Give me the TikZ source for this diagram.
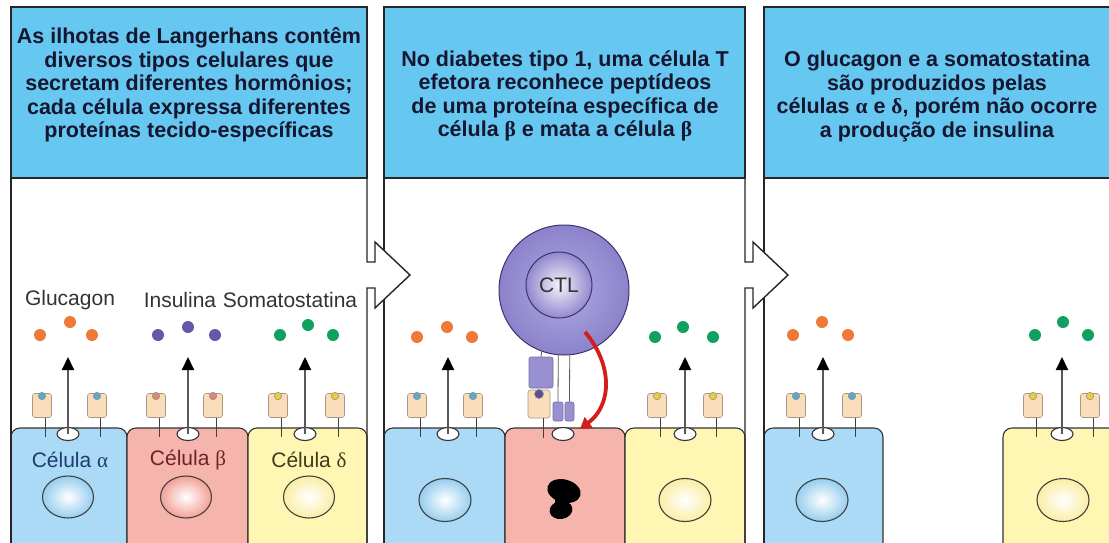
\documentclass[tikz,border=0pt]{standalone}
\usepackage{fontspec}
\setmainfont{Liberation Sans}
\newfontfamily\greekfont{Liberation Serif}
\usetikzlibrary{arrows.meta,shapes.geometric}

\definecolor{hdrblue}{RGB}{102,200,240}
\definecolor{ink}{RGB}{22,22,48}
\definecolor{cellA}{RGB}{170,218,245}
\definecolor{cellB}{RGB}{245,180,172}
\definecolor{cellD}{RGB}{255,246,180}
\definecolor{nucA}{RGB}{150,205,238}
\definecolor{nucB}{RGB}{242,160,150}
\definecolor{nucD}{RGB}{250,238,165}
\definecolor{labA}{RGB}{30,60,110}
\definecolor{labB}{RGB}{110,36,38}
\definecolor{labD}{RGB}{60,60,24}
\definecolor{dotO}{RGB}{240,120,56}
\definecolor{dotP}{RGB}{100,88,168}
\definecolor{dotG}{RGB}{16,160,96}
\definecolor{recfill}{RGB}{250,222,188}
\definecolor{recedge}{RGB}{170,150,130}
\definecolor{ligA}{RGB}{90,170,205}
\definecolor{ligB}{RGB}{225,135,120}
\definecolor{ligD}{RGB}{232,205,60}
\definecolor{ligM}{RGB}{95,80,150}
\definecolor{ctlout}{RGB}{140,130,202}
\definecolor{ctlin}{RGB}{178,170,228}
\definecolor{ctlline}{RGB}{60,52,110}
\definecolor{tcrfill}{RGB}{152,144,208}
\definecolor{killred}{RGB}{212,30,30}

\tikzset{
  frame/.style={draw=black!85, line width=1.4pt},
  header/.style={fill=hdrblue, draw=black!85, line width=1.4pt},
  hdrtext/.style={font=\bfseries\fontsize{21.5}{23.5}\selectfont, align=center, text=ink, inner sep=0pt},
  lbl/.style={font=\fontsize{21}{24}\selectfont, inner sep=0pt, text=black!80},
  cellline/.style={draw=black!80, line width=1.1pt, rounded corners=9pt},
  pore/.style={ellipse, minimum width=22, minimum height=13, inner sep=0pt, fill=white, draw=black!80, line width=1.1pt},
  nucleus/.style={ellipse, minimum width=51, minimum height=42, inner sep=0pt, draw=black!75, line width=1.1pt, inner color=white},
  recbox/.style={rectangle, rounded corners=2.5pt, minimum width=19, minimum height=24, inner sep=0pt, fill=recfill, draw=recedge, line width=0.6pt},
  ligand/.style={circle, minimum size=7.5, inner sep=0pt, draw=black!45, line width=0.5pt},
  stem/.style={draw=black!75, line width=1pt},
  secretion/.style={draw=black!65, line width=2pt, -{Triangle[length=13pt,width=12pt,color=black]}},
  hdot/.style={circle, minimum size=12, inner sep=0pt},
  tcrbox/.style={rectangle, rounded corners=2pt, inner sep=0pt, fill=tcrfill, draw=ctlline!70, line width=0.6pt},
  tcrline/.style={draw=black!65, line width=0.8pt},
  killarrow/.style={draw=killred, line width=3.8pt, -{Triangle[length=11pt,width=13pt]}},
}

% one islet cell: name, left edge, right edge, pore position, fill
\newcommand{\isletcell}[5]{%
  \draw[cellline, fill=#5] (#2,580) -- (#2,428) -- (#3,428) -- (#3,580);
  \node[pore] (#1p) at (#4,434) {};
}
% membrane receptor with bound ligand: name, x, ligand colour
\newcommand{\recep}[3]{%
  \node[recbox] (#1) at (#2,405.5) {};
  \draw[stem] ([xshift=3pt]#1.south) -- ++(0,19);
  \node[ligand, fill=#3] (#1l) at (#2,396) {};
}
% hormone release arrow from a cell pore: cell name, x
\newcommand{\secrete}[2]{%
  \coordinate (#1t) at (#2,357);
  \draw[secretion] (#1p.center) -- (#1t);
}

\begin{document}
\begin{tikzpicture}[x=1pt,y=-1pt]
\useasboundingbox (0,0) rectangle (1109,542);
\clip (0,0) rectangle (1109,542);
\fill[white] (0,0) rectangle (1109,542);

% ---------- cells ----------
\isletcell{a1}{11}{127}{68}{cellA}
\isletcell{b1}{127}{248}{188}{cellB}
\isletcell{d1}{248}{367}{305}{cellD}
\isletcell{a2}{384}{505}{448}{cellA}
\isletcell{b2}{505}{625}{563}{cellB}
\isletcell{d2}{625}{745}{685}{cellD}
\isletcell{a3}{764}{883}{823}{cellA}
\isletcell{d3}{1003}{1130}{1062}{cellD}

% nuclei
\node[nucleus, outer color=nucA] (a1n) at (68,497) {};
\node[nucleus, outer color=nucB] (b1n) at (186,497) {};
\node[nucleus, outer color=nucD] (d1n) at (309,497) {};
\node[nucleus, outer color=nucA, minimum width=52, minimum height=43] (a2n) at (445,500) {};
\node[nucleus, outer color=nucD, minimum width=52, minimum height=43] (d2n) at (685,500) {};
\node[nucleus, outer color=nucA, minimum width=52, minimum height=43] (a3n) at (822,500) {};
\node[nucleus, outer color=nucD, minimum width=52, minimum height=43] (d3n) at (1063,500) {};
% fragmented nucleus of the dying beta cell
\fill[black] (564,491) ellipse [x radius=17, y radius=11.5, rotate=-15];
\fill[black] (561,510) ellipse [x radius=11.5, y radius=9, rotate=10];
\fill[black] (555,499) rectangle (567,504);

% cell names
\node[lbl, text=labA] (a1lbl) at (70,460) {Célula {\greekfont α}};
\node[lbl, text=labB] (b1lbl) at (188,460) {Célula {\greekfont β}};
\node[lbl, text=labD] (d1lbl) at (309,460) {Célula {\greekfont δ}};

% ---------- headers ----------
\path[header] (11,7) rectangle (367,178);
\path[header] (384,7) rectangle (745,178);
\path[header] (764,7) rectangle (1130,178);

\node[hdrtext] (t1) at (189,85) {As ilhotas de Langerhans contêm\\diversos tipos celulares que\\secretam diferentes hormônios;\\cada célula expressa diferentes\\proteínas tecido-específicas};
\node[hdrtext] (t2) at (565,96) {No diabetes tipo 1, uma célula T\\efetora reconhece peptídeos\\de uma proteína específica de\\célula {\greekfont β} e mata a célula {\greekfont β}};
\node[hdrtext] (t3) at (937,96.5) {O glucagon e a somatostatina\\são produzidos pelas\\células {\greekfont α} e {\greekfont δ}, porém não ocorre\\a produção de insulina};

% ---------- panel frames with the step arrows ----------
\draw[frame] (11,178) -- (11,560);
\draw[frame] (384,178) -- (384,560);
\fill[white] (368,262) -- (375,262) -- (375,242) -- (410,275) -- (375,308) -- (375,288) -- (368,288) -- cycle;
\draw[frame] (367,178) -- (367,262) -- (375,262) -- (375,242) -- (410,275) -- (375,308) -- (375,288) -- (367,288) -- (367,560);

\draw[frame] (764,178) -- (764,560);
\fill[white] (746,262) -- (753,262) -- (753,242) -- (788,275) -- (753,308) -- (753,288) -- (746,288) -- cycle;
\draw[frame] (745,178) -- (745,262) -- (753,262) -- (753,242) -- (788,275) -- (753,308) -- (753,288) -- (745,288) -- (745,560);

% ---------- receptors ----------
\recep{ra1}{42}{ligA}  \recep{ra2}{97}{ligA}
\recep{rb1}{156}{ligB} \recep{rb2}{213}{ligB}
\recep{rd1}{278}{ligD} \recep{rd2}{335}{ligD}
\recep{ra3}{417}{ligA} \recep{ra4}{473}{ligA}
\recep{rd3}{657}{ligD} \recep{rd4}{713}{ligD}
\recep{ra5}{796}{ligA} \recep{ra6}{852}{ligA}
\recep{rd5}{1033}{ligD} \recep{rd6}{1090}{ligD}

% ---------- hormone release ----------
\secrete{a1}{68} \secrete{b1}{188} \secrete{d1}{305}
\secrete{a2}{448} \secrete{d2}{685}
\secrete{a3}{823} \secrete{d3}{1062}

\node[lbl] (glu) at (70,300) {Glucagon};
\node[lbl] (ins) at (180,300) {Insulina};
\node[lbl] (som) at (290,300) {Somatostatina};

\node[hdot, fill=dotO] (g1a) at (40,335) {};
\node[hdot, fill=dotO] (g1b) at (70,322) {};
\node[hdot, fill=dotO] (g1c) at (92,335) {};
\node[hdot, fill=dotP] (i1a) at (158,335) {};
\node[hdot, fill=dotP] (i1b) at (188,327) {};
\node[hdot, fill=dotP] (i1c) at (215,335) {};
\node[hdot, fill=dotG] (s1a) at (280,335) {};
\node[hdot, fill=dotG] (s1b) at (308,325) {};
\node[hdot, fill=dotG] (s1c) at (333,335) {};

\node[hdot, fill=dotO] (g2a) at (417,337) {};
\node[hdot, fill=dotO] (g2b) at (447,327) {};
\node[hdot, fill=dotO] (g2c) at (472,337) {};
\node[hdot, fill=dotG] (s2a) at (655,337) {};
\node[hdot, fill=dotG] (s2b) at (683,327) {};
\node[hdot, fill=dotG] (s2c) at (713,337) {};

\node[hdot, fill=dotO] (g3a) at (793,335) {};
\node[hdot, fill=dotO] (g3b) at (822,322) {};
\node[hdot, fill=dotO] (g3c) at (848,335) {};
\node[hdot, fill=dotG] (s3a) at (1035,335) {};
\node[hdot, fill=dotG] (s3b) at (1063,322) {};
\node[hdot, fill=dotG] (s3c) at (1088,335) {};

% ---------- cytotoxic T cell ----------
\node[circle, minimum size=130, inner sep=0pt, inner color=ctlin, outer color=ctlout, draw=ctlline, line width=1pt] (ctl) at (564,290) {};
\node[circle, minimum size=66, inner sep=0pt, inner color=white!85!ctlin, outer color=ctlout!85!ctlin, draw=ctlline, line width=1pt] (ctln) at (559,285) {};
\node[font=\fontsize{21}{24}\selectfont, text=black!80, inner sep=0pt] (ctltxt) at (ctln) {CTL};

% receptor complex at the synapse
\node[tcrbox, minimum width=24, minimum height=31] (tcr) at (541,372.5) {};
\node[recbox, minimum width=22, minimum height=28] (mhc) at (539,404) {};
\node[ligand, fill=ligM, minimum size=9] (pep) at (539,394) {};
\draw[stem] ([xshift=4pt]mhc.south) -- ++(0,20);
\node[tcrbox, minimum width=10, minimum height=19] (cd1) at (558,411.5) {};
\node[tcrbox, minimum width=9, minimum height=19] (cd2) at (569.5,411.5) {};
\draw[tcrline] (ctl.-110) -- (tcr.north);
\draw[tcrline] (ctl.-95) -- (cd1.north);
\draw[tcrline] (ctl.-85) -- (cd2.north);

% killing signal
\coordinate (kstart) at (585,332);
\coordinate (ktip) at (580,429);
\draw[killarrow] (kstart) .. controls (613,365) and (612,405) .. (ktip);

\end{tikzpicture}
\end{document}
